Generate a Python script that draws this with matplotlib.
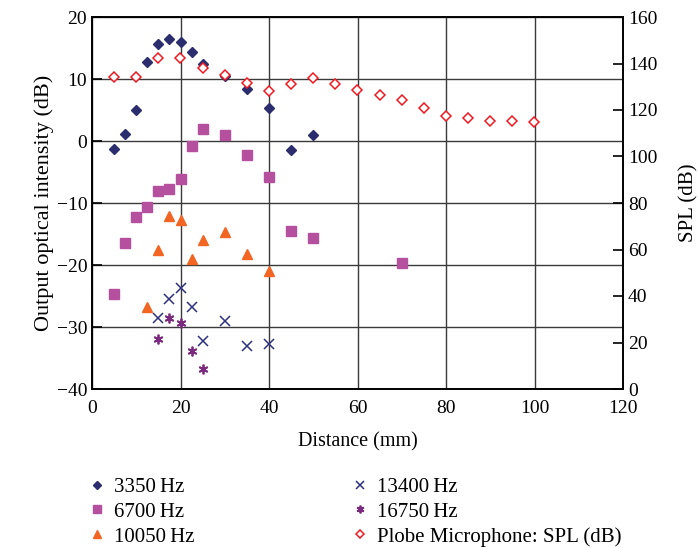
import matplotlib
matplotlib.use("Agg")
import matplotlib.pyplot as plt

plt.rcParams["font.family"] = ["Liberation Serif", "DejaVu Serif"]

# Output optical intensity (dB) vs distance (mm)
x_3350 = [5, 7.5, 10, 12.5, 15, 17.5, 20, 22.5, 25, 30, 35, 40, 45, 50]
y_3350 = [-1.3, 1.2, 5.0, 12.7, 15.7, 16.4, 15.9, 14.3, 12.4, 10.5, 8.4, 5.3, -1.5, 1.0]

x_6700 = [5, 7.5, 10, 12.5, 15, 17.5, 20, 22.5, 25, 30, 35, 40, 45, 50, 70]
y_6700 = [-24.6, -16.4, -12.3, -10.6, -8.0, -7.8, -6.2, -0.8, 1.9, 1.0, -2.3, -5.8, -14.5, -15.6, -19.6]

x_10050 = [12.5, 15, 17.5, 20, 22.5, 25, 30, 35, 40]
y_10050 = [-26.8, -17.5, -12.1, -12.8, -19.1, -15.9, -14.6, -18.3, -21.0]

x_13400 = [15, 17.5, 20, 22.5, 25, 30, 35, 40]
y_13400 = [-28.5, -25.5, -23.7, -26.8, -32.2, -29.1, -33.1, -32.8]

x_16750 = [15, 17.5, 20, 22.5, 25]
y_16750 = [-31.9, -28.6, -29.4, -33.9, -36.7]

# Probe microphone SPL (dB), right axis
x_spl = [5, 10, 15, 20, 25, 30, 35, 40, 45, 50, 55, 60, 65, 70, 75, 80, 85, 90, 95, 100]
y_spl = [134.3, 134.2, 142.2, 142.4, 138.1, 135.2, 131.7, 128.3, 131.0, 133.8,
         131.3, 128.7, 126.6, 124.3, 121.0, 117.6, 116.4, 115.4, 115.1, 114.8]

fig = plt.figure(figsize=(6.98, 5.48), dpi=100)
ax = fig.add_axes([92 / 698, 1 - 389 / 548, (623 - 92) / 698, (389 - 17) / 548])
ax2 = ax.twinx()

h1, = ax.plot(x_3350, y_3350, "D", color="#2b2d6e", markersize=5.5, linestyle="", label="3350\u2009Hz")
h2, = ax.plot(x_6700, y_6700, "s", color="#b5509f", markersize=6.5, linestyle="", label="6700\u2009Hz")
h3, = ax.plot(x_10050, y_10050, "^", color="#f26522", markersize=7, linestyle="", label="10050\u2009Hz")
h4, = ax.plot(x_13400, y_13400, "x", color="#2e3180", markersize=7, mew=1.1, linestyle="", label="13400\u2009Hz")
h5, = ax.plot(x_16750, y_16750, marker=(6, 2, 0), color="#7b2a7f", markersize=7, mew=1.3, linestyle="", label="16750\u2009Hz")
h6, = ax2.plot(x_spl, y_spl, "D", mfc="white", mec="#ed1c24", mew=1.1, markersize=5.5, linestyle="",
               label="Plobe Microphone: SPL (dB)")

ax.set_xlim(0, 120)
ax.set_ylim(-40, 20)
ax2.set_ylim(0, 160)
ax.set_xticks(range(0, 121, 20))
ax.set_yticks(range(-40, 21, 10))
ax2.set_yticks(range(0, 161, 20))
ax.set_yticklabels(["\u221240", "\u221230", "\u221220", "\u221210", "0", "10", "20"])

ax.grid(True, color="#3a3a3a", linewidth=1.0)
ax.set_axisbelow(True)
ax.tick_params(direction="in", length=7, width=1.2, labelsize=14, colors="black")
ax2.tick_params(direction="in", length=7, width=1.2, labelsize=14)
ax.tick_params(axis="x", length=0, pad=8)
for a in (ax, ax2):
    for sp in a.spines.values():
        sp.set_linewidth(1.2)
        sp.set_color("black")

ax.set_xlabel("Distance (mm)", fontsize=14.5, labelpad=11)
ax.set_ylabel("Output optical intensity (dB)", fontsize=16, labelpad=2)
ax2.set_ylabel("SPL (dB)", fontsize=15, labelpad=16)

leg_kw = dict(loc="upper left", ncol=1, frameon=False, fontsize=15, handlelength=0.8,
              handletextpad=0.45, labelspacing=0.25, borderpad=0, markerscale=0.8)
fig.legend(handles=[h1, h2, h3], bbox_to_anchor=(78 / 698, 1 - 467 / 548), **leg_kw)
fig.legend(handles=[h4, h5, h6], bbox_to_anchor=(341 / 698, 1 - 467 / 548), **leg_kw)

fig.savefig("out.png", dpi=100)
